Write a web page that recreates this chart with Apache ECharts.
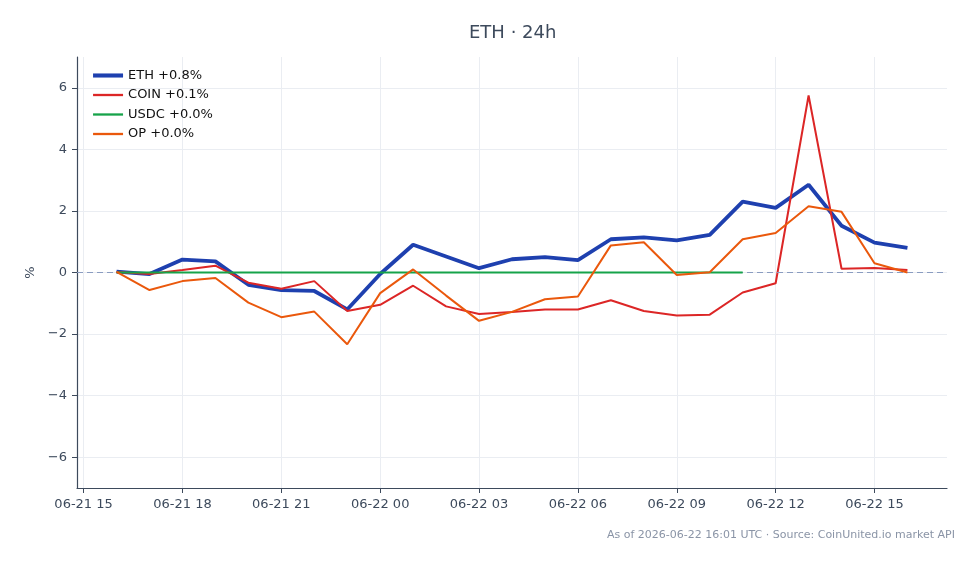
<!DOCTYPE html>
<html>
<head>
<meta charset="utf-8">
<script src="https://cdn.jsdelivr.net/npm/echarts@6/dist/echarts.min.js"></script>
<style>
html, body { margin: 0; padding: 0; background: #fff; }
#echart { width: 979px; height: 564px; }
</style>
</head>
<body>
<div id="echart"></div>
<script>
// hours since 06-21 00:00 UTC
var hours = [16, 17, 18, 19, 20, 21, 22, 23, 24, 25, 26, 27, 28, 29, 30, 31, 32, 33, 34, 35, 36, 37, 38, 39, 40];
var eth = [0.03, -0.05, 0.42, 0.36, -0.40, -0.57, -0.60, -1.20, -0.05, 0.90, 0.52, 0.14, 0.43, 0.50, 0.40, 1.08, 1.14, 1.04, 1.22, 2.30, 2.10, 2.85, 1.52, 0.97, 0.80];
var coin = [0.02, -0.05, 0.08, 0.22, -0.33, -0.53, -0.28, -1.25, -1.05, -0.43, -1.10, -1.35, -1.28, -1.20, -1.20, -0.90, -1.25, -1.40, -1.37, -0.65, -0.35, 5.75, 0.12, 0.15, 0.08];
var usdc = [0, 0, 0, 0, 0, 0, 0, 0, 0, 0, 0, 0, 0, 0, 0, 0, 0, 0, 0, 0, null, null, null, null, null];
var op = [0.02, -0.57, -0.28, -0.18, -0.98, -1.45, -1.27, -2.33, -0.67, 0.10, -0.75, -1.57, -1.28, -0.87, -0.78, 0.88, 0.98, -0.08, 0.01, 1.08, 1.28, 2.15, 1.97, 0.30, 0.00];
var tickHours = [15, 18, 21, 24, 27, 30, 33, 36, 39];
var tickLabels = ['06-21 15', '06-21 18', '06-21 21', '06-22 00', '06-22 03', '06-22 06', '06-22 09', '06-22 12', '06-22 15'];
var yTicks = [-6, -4, -2, 0, 2, 4, 6];

var names = ['ETH +0.8%', 'COIN +0.1%', 'USDC +0.0%', 'OP +0.0%'];
var colors = ['#1e40af', '#dc2626', '#16a34a', '#ea580c'];
var widths = [3.8, 2, 2, 2];
var font = 'DejaVu Sans';
var ink = '#3d4a5c';

function pairs(vals) {
	return hours.map(function (h, i) { return [h, vals[i]]; });
}

var myChart = echarts.init(document.getElementById('echart'));
var option = {
	animation: false,
	textStyle: { fontFamily: font },
	title: {
		text: 'ETH · 24h',
		left: 464,
		top: 19,
		textStyle: { fontFamily: font, fontSize: 18, fontWeight: 'normal', color: ink }
	},
	legend: {
		orient: 'vertical',
		left: 86,
		top: 64,
		itemWidth: 30,
		itemHeight: 12,
		itemGap: 6.5,
		itemStyle: { opacity: 0 },
		textStyle: { fontFamily: font, fontSize: 13, color: '#111' },
		data: names.map(function (n, i) {
			return { name: n, lineStyle: { width: widths[i] + 0.3 } };
		})
	},
	grid: { left: 77, right: 32, top: 57, bottom: 76, containLabel: false },
	xAxis: {
		type: 'value',
		min: 14.8,
		max: 41.2,
		axisLine: { onZero: false, lineStyle: { color: ink, width: 1.2 } },
		axisTick: { show: true, length: 5, customValues: tickHours, lineStyle: { color: ink } },
		axisLabel: {
			customValues: tickHours,
			color: ink,
			fontSize: 13,
			margin: 10,
			formatter: function (v) { return tickLabels[tickHours.indexOf(v)]; }
		},
		splitLine: { show: true, lineStyle: { color: '#eaedf2', width: 1 } }
	},
	yAxis: {
		type: 'value',
		min: -7,
		max: 7,
		name: '%',
		nameLocation: 'middle',
		nameGap: 40,
		nameRotate: 90,
		nameTextStyle: { fontFamily: font, fontSize: 13, color: ink },
		axisLine: { show: true, onZero: false, lineStyle: { color: ink, width: 1.2 } },
		axisTick: { show: true, length: 5, customValues: yTicks, lineStyle: { color: ink } },
		axisLabel: {
			customValues: yTicks,
			color: ink,
			fontSize: 13,
			margin: 10,
			formatter: function (v) { return String(v).replace('-', '\u2212'); }
		},
		splitLine: { show: true, lineStyle: { color: '#eaedf2', width: 1 } }
	},
	graphic: [{
		type: 'text',
		right: 24,
		top: 530,
		style: {
			text: 'As of 2026-06-22 16:01 UTC · Source: CoinUnited.io market API',
			fontFamily: font,
			fontSize: 11,
			fill: '#8a94a6'
		}
	}],
	series: [{
		name: names[0],
		type: 'line',
		data: pairs(eth),
		symbol: 'none',
		z: 3,
		lineStyle: { color: colors[0], width: widths[0] },
		itemStyle: { color: colors[0] },
		markLine: {
			silent: true,
			symbol: 'none',
			label: { show: false },
			lineStyle: { color: '#8a9cc0', type: [6, 4], width: 1 },
			emphasis: { disabled: true },
			data: [{ yAxis: 0 }]
		}
	}, {
		name: names[1],
		type: 'line',
		data: pairs(coin),
		symbol: 'none',
		z: 4,
		lineStyle: { color: colors[1], width: widths[1] },
		itemStyle: { color: colors[1] }
	}, {
		name: names[2],
		type: 'line',
		data: pairs(usdc),
		symbol: 'none',
		z: 5,
		lineStyle: { color: colors[2], width: widths[2] },
		itemStyle: { color: colors[2] }
	}, {
		name: names[3],
		type: 'line',
		data: pairs(op),
		symbol: 'none',
		z: 6,
		lineStyle: { color: colors[3], width: widths[3] },
		itemStyle: { color: colors[3] }
	}]
};
myChart.setOption(option);
</script>
</body>
</html>
